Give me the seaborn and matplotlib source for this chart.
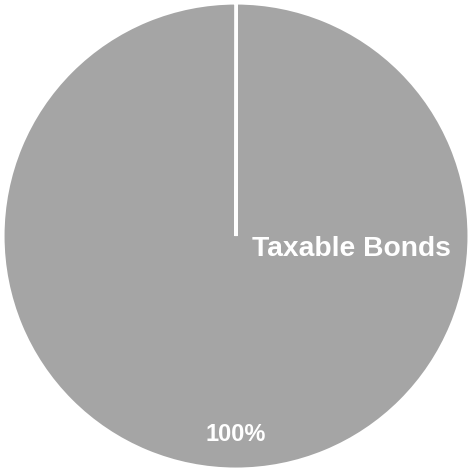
import matplotlib
matplotlib.use("Agg")
import matplotlib.pyplot as plt
import seaborn as sns

categories = ["Taxable Bonds"]
values = [100]
colors = ["#a5a5a5"]

sns.set_style("white")
plt.rcParams['font.family'] = ['Liberation Sans', 'DejaVu Sans']

fig = plt.figure(figsize=(4.71, 4.70), dpi=100)
ax = fig.add_axes([0, 0, 1, 1])
wedges, texts, autotexts = ax.pie(
    values, colors=colors, startangle=90, counterclock=True,
    autopct=lambda p: f"{p:.0f}%", pctdistance=0.85,
    wedgeprops=dict(edgecolor="white", linewidth=2.2),
    textprops=dict(color="white", fontsize=17, fontweight="bold"),
)
# make the single full wedge show its radial edge
for w in wedges:
    w.set_theta2(w.theta2 - 0.05)
ax.text(0.069, -0.056, categories[0], color="white", fontsize=20.3,
        fontweight="bold", ha="left", va="center")
ax.set_xlim(-1.013, 1.0086)
ax.set_ylim(-1.004, 1.013)
ax.set_aspect("auto")
ax.axis("off")
fig.savefig("out.png", dpi=100)
